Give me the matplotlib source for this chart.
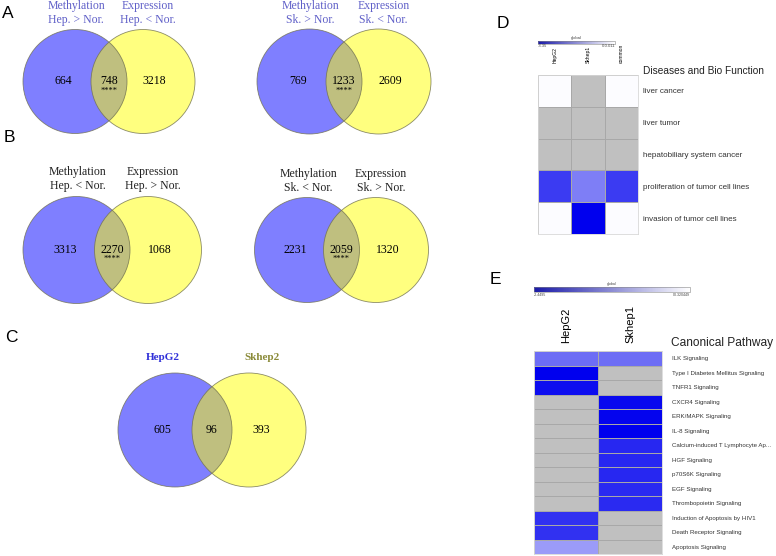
import numpy as np
import matplotlib
matplotlib.use('Agg')
import matplotlib.pyplot as plt
from matplotlib.patches import Circle
from matplotlib.colors import LinearSegmentedColormap, Normalize
from matplotlib.cm import ScalarMappable

################################################################
# data
################################################################
#
# venn counts: [left only, overlap, right only]
venn_a_hep = [664, 748, 3218]
venn_a_sk = [769, 1233, 2609]
venn_b_hep = [3313, 2270, 1068]
venn_b_sk = [2231, 2059, 1320]
venn_c = [605, 96, 393]

venn_a_titles = [['Methylation\nHep. > Nor.', 'Expression\nHep. < Nor.'],
                 ['Methylation\nSk. > Nor.', 'Expression\nSk. < Nor.']]
venn_b_titles = [['Methylation\nHep. < Nor.', 'Expression\nHep. > Nor.'],
                 ['Methylation\nSk. < Nor.', 'Expression\nSk. > Nor.']]
venn_c_titles = ['HepG2', 'Skhep2']

# panel D heatmap (nan = not significant, drawn grey)
d_cols = ['HepG2', 'Skhep1', 'common']
d_rows = ['liver cancer', 'liver tumor', 'hepatobiliary system cancer',
          'proliferation of tumor cell lines', 'invasion of tumor cell lines']
d_vals = [[0.0, np.nan, 0.0],
          [np.nan, np.nan, np.nan],
          [np.nan, np.nan, np.nan],
          [-2.55, -1.68, -2.55],
          [0.0, -3.35, 0.0]]
d_range = [-3.35, 0.011]
d_range_labels = ['-3.35', '0-0.011']

# panel E heatmap
e_cols = ['HepG2', 'Skhep1']
e_rows = ['ILK Signaling', 'Type I Diabetes Mellitus Signaling', 'TNFR1 Signaling',
          'CXCR4 Signaling', 'ERK/MAPK Signaling', 'IL-8 Signaling',
          'Calcium-induced T Lymphocyte Ap...', 'HGF Signaling', 'p70S6K Signaling',
          'EGF Signaling', 'Thrombopoietin Signaling', 'Induction of Apoptosis by HIV1',
          'Death Receptor Signaling', 'Apoptosis Signaling']
e_vals = [[-1.25, -1.25],
          [-2.45, np.nan],
          [-2.30, np.nan],
          [np.nan, -2.35],
          [np.nan, -2.40],
          [np.nan, -2.45],
          [np.nan, -2.02],
          [np.nan, -2.02],
          [np.nan, -2.02],
          [np.nan, -1.98],
          [np.nan, -1.98],
          [-1.90, np.nan],
          [-1.90, np.nan],
          [-0.75, np.nan]]
e_range = [-2.4495, 0.320449]
e_range_labels = ['-2.4495', '00.320449']

################################################################
# figure setup, everything placed in pixel units
################################################################
#
W, H = 776, 556
fig = plt.figure(figsize=(W/100, H/100), dpi=100)
bg = fig.add_axes([0, 0, 1, 1])
bg.set_xlim(0, W)
bg.set_ylim(H, 0)
bg.axis('off')

def px(x0, y0, x1, y1):
    return [x0/W, 1-y1/H, (x1-x0)/W, (y1-y0)/H]

serif = 'Liberation Serif'
sans = 'Liberation Sans'
title_blue = '#6060c8'

def venn(cl, cr, cy, r, counts, titles, ty, tcolors, toff=(1, 5), stars=True, bold=False):
    for cx, col in ((cl, '#0000ff'), (cr, '#ffff00')):
        bg.add_patch(Circle((cx, cy), r, facecolor=col, alpha=0.5, edgecolor='none'))
    for cx in (cl, cr):
        bg.add_patch(Circle((cx, cy), r, fill=False, edgecolor='#707050', lw=0.6, alpha=0.8))
    xs = [cl-0.22*r, (cl+cr)/2, cr+0.22*r]
    for x, n in zip(xs, counts):
        bg.text(x, cy, str(n), ha='center', va='center', fontsize=8.5,
                family=serif, color='black')
    if stars:
        bg.text(xs[1], cy+9, '****', ha='center', va='center', fontsize=6,
                family=serif, color='black')
    for x, t, c in zip((cl+toff[0], cr+toff[1]), titles, tcolors):
        bg.text(x, ty, t, ha='center', va='center', multialignment='center',
                fontsize=8.5 if not bold else 8, family=serif, color=c,
                linespacing=1.15, weight='bold' if bold else 'normal')

# panel A
venn(75, 143, 81.5, 52, venn_a_hep, venn_a_titles[0], 13, [title_blue]*2)
venn(309.5, 378.5, 81.5, 52.5, venn_a_sk, venn_a_titles[1], 13, [title_blue]*2)
# panel B
venn(76.5, 148, 250, 53.5, venn_b_hep, venn_b_titles[0], 179, ['#222222']*2)
venn(307, 376, 250, 52.5, venn_b_sk, venn_b_titles[1], 181, ['#222222']*2)
# panel C
venn(175, 249, 430, 57, venn_c, venn_c_titles, 357, ['#3030d8', '#8a8a38'],
     toff=(-12, 13), stars=False, bold=True)

for lab, x, y in (('A', 8, 13), ('B', 9, 138), ('C', 11, 337), ('D', 503, 24), ('E', 495, 279)):
    bg.text(x, y, lab, ha='center', va='center', fontsize=12.5, family=sans, color='black')

################################################################
# heatmaps
################################################################
#
def heatmap(rect, vals, rows, cols, vrange, cbrect, cblabels, collab_size, collab_pad,
            rowlab_size, rowlab_pad, cbfs):
    ax = fig.add_axes(rect)
    cmap = LinearSegmentedColormap.from_list('bw', ['#0000ee', '#fcfcff'])
    cmap.set_bad('#c0c0c0')
    data = np.ma.masked_invalid(np.array(vals))
    ax.pcolormesh(data, cmap=cmap, vmin=vrange[0], vmax=vrange[1],
                  edgecolors='#a8a8a8', linewidth=0.5)
    ax.set_xlim(0, len(cols))
    ax.set_ylim(len(rows), 0)
    ax.xaxis.tick_top()
    ax.set_xticks(np.arange(len(cols))+0.5)
    ax.set_xticklabels(cols, rotation=90, fontsize=collab_size, family=sans)
    ax.yaxis.tick_right()
    ax.set_yticks(np.arange(len(rows))+0.5)
    ax.set_yticklabels(rows, fontsize=rowlab_size, family=sans, color='#333333')
    ax.tick_params(axis='x', length=0, pad=collab_pad)
    ax.tick_params(axis='y', length=0, pad=rowlab_pad)
    for s in ax.spines.values():
        s.set_color('#d8d8d8')
        s.set_linewidth(0.6)
    # colour scale bar
    cax = fig.add_axes(cbrect)
    cb = fig.colorbar(ScalarMappable(Normalize(*vrange), LinearSegmentedColormap.from_list(
        'cb', ['#1a1aa8', '#ffffff'])), cax=cax, orientation='horizontal')
    cb.set_ticks([])
    cb.outline.set_linewidth(0.4)
    cb.outline.set_edgecolor('#888888')
    cax.text(0.5, 1.3, 'global', transform=cax.transAxes, ha='center', va='bottom',
             fontsize=cbfs, family=sans, color='#444444')
    cax.text(0.0, -0.3, cblabels[0], transform=cax.transAxes, ha='left', va='top',
             fontsize=cbfs, family=sans, color='#444444')
    cax.text(1.0, -0.3, cblabels[1], transform=cax.transAxes, ha='right', va='top',
             fontsize=cbfs, family=sans, color='#444444')
    return ax

heatmap(px(538, 75, 638, 234), d_vals, d_rows, d_cols, d_range, px(538, 41, 615, 43.5),
        d_range_labels, 3.6, 8.5, 5.8, 3.5, 3)
bg.text(643, 71, 'Diseases and Bio Function', ha='left', va='center', fontsize=7.3,
        family=sans, color='#222222')

heatmap(px(534, 351, 662, 554), e_vals, e_rows, e_cols, e_range, px(534, 287, 690, 292),
        e_range_labels, 8, 5.5, 4.4, 7, 2.6)
bg.text(671, 343, 'Canonical Pathway', ha='left', va='center', fontsize=8.6,
        family=sans, color='#222222')

fig.savefig('out.png', dpi=100)
